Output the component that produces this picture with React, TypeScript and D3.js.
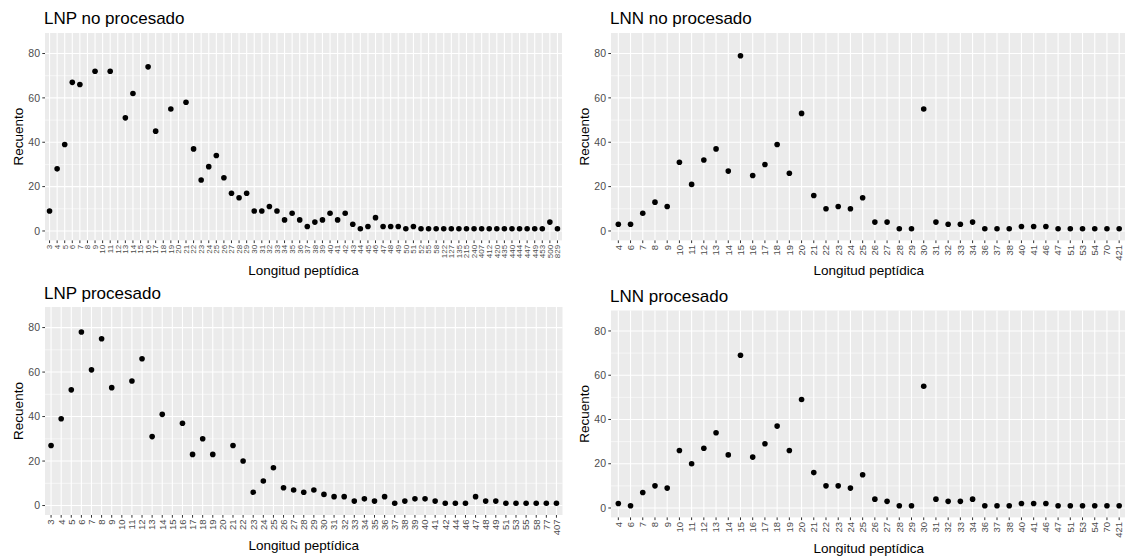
import React from "react";
import * as d3 from "d3";

// LNP no procesado
const lnpNoProcCats = [
  3, 4, 5, 6, 7, 8, 9, 10, 11, 12, 13, 14, 15, 16, 17, 18, 19, 20, 21, 22, 23, 24, 25, 26, 27,
  28, 29, 30, 31, 32, 33, 34, 35, 36, 37, 38, 39, 40, 41, 42, 43, 44, 45, 46, 47, 48, 49, 50, 51, 52,
  55, 58, 122, 127, 135, 215, 240, 407, 412, 420, 435, 440, 444, 447, 449, 453, 500, 829,
];
// null = above the y limit, dropped from the plot
const lnpNoProcCounts = [
  9, 28, 39, 67, 66, null, 72, null, 72, null, 51, 62, null, 74, 45, null, 55, null, 58, 37, 23, 29, 34, 24, 17,
  15, 17, 9, 9, 11, 9, 5, 8, 5, 2, 4, 5, 8, 5, 8, 3, 1, 2, 6, 2, 2, 2, 1, 2, 1,
  1, 1, 1, 1, 1, 1, 1, 1, 1, 1, 1, 1, 1, 1, 1, 1, 4, 1,
];

// LNN no procesado
const lnnNoProcCats = [
  4, 6, 7, 8, 9, 10, 11, 12, 13, 14, 15, 16, 17, 18, 19, 20, 21, 22, 23, 24, 25, 26, 27, 28, 29, 30,
  31, 32, 33, 34, 36, 37, 38, 40, 41, 46, 47, 51, 53, 54, 70, 421,
];
const lnnNoProcCounts = [
  3, 3, 8, 13, 11, 31, 21, 32, 37, 27, 79, 25, 30, 39, 26, 53, 16, 10, 11, 10, 15, 4, 4, 1, 1, 55,
  4, 3, 3, 4, 1, 1, 1, 2, 2, 2, 1, 1, 1, 1, 1, 1,
];

// LNP procesado
const lnpProcCats = [
  3, 4, 5, 6, 7, 8, 9, 10, 11, 12, 13, 14, 15, 16, 17, 18, 19, 20, 21, 22, 23, 24, 25, 26, 27,
  28, 29, 30, 31, 32, 33, 34, 35, 36, 37, 38, 39, 40, 41, 42, 44, 46, 47, 48, 49, 51, 53, 55, 58, 77, 407,
];
const lnpProcCounts = [
  27, 39, 52, 78, 61, 75, 53, null, 56, 66, 31, 41, null, 37, 23, 30, 23, null, 27, 20, 6, 11, 17, 8, 7,
  6, 7, 5, 4, 4, 2, 3, 2, 4, 1, 2, 3, 3, 2, 1, 1, 1, 4, 2, 2, 1, 1, 1, 1, 1, 1,
];

// LNN procesado
const lnnProcCats = lnnNoProcCats;
const lnnProcCounts = [
  2, 1, 7, 10, 9, 26, 20, 27, 34, 24, 69, 23, 29, 37, 26, 49, 16, 10, 10, 9, 15, 4, 3, 1, 1, 55,
  4, 3, 3, 4, 1, 1, 1, 2, 2, 2, 1, 1, 1, 1, 1, 1,
];

const yTicks = [0, 20, 40, 60, 80];
const yMinorTicks = [10, 30, 50, 70];
const yLimits = [0, 85];

const FONT = "'Liberation Sans', Arial, Helvetica, sans-serif";

type PanelProps = {
  title: string;
  cats: number[];
  counts: (number | null)[];
  left: number;
  right: number;
  top: number;
  bottom: number;
  titleY: number;
  yTitleX: number;
  xTitleY: number;
  xLabelSize: number;
};

const Panel = ({ title, cats, counts, left, right, top, bottom, titleY, yTitleX, xTitleY, xLabelSize }: PanelProps) => {
  const x = d3.scalePoint<string>().domain(cats.map(String)).range([left, right]).padding(0.6);
  const pad = (yLimits[1] - yLimits[0]) * 0.05;
  const y = d3.scaleLinear().domain([yLimits[0] - pad, yLimits[1] + pad]).range([bottom, top]);

  return (
    <g>
      <rect x={left} y={top} width={right - left} height={bottom - top} fill="#EBEBEB" />
      {yMinorTicks.map((t) => (
        <line key={"mn" + t} x1={left} x2={right} y1={y(t)} y2={y(t)} stroke="#fff" strokeWidth={0.55} />
      ))}
      {yTicks.map((t) => (
        <line key={"mj" + t} x1={left} x2={right} y1={y(t)} y2={y(t)} stroke="#fff" strokeWidth={1.1} />
      ))}
      {cats.map((c) => (
        <line key={"vx" + c} x1={x(String(c))} x2={x(String(c))} y1={top} y2={bottom} stroke="#fff" strokeWidth={1.1} />
      ))}

      {cats.map((c, i) =>
        counts[i] == null ? null : (
          <circle key={"pt" + c} cx={x(String(c))} cy={y(counts[i] as number)} r={2.8} fill="#000" />
        )
      )}

      {yTicks.map((t) => (
        <g key={"yt" + t}>
          <line x1={left - 2.7} x2={left} y1={y(t)} y2={y(t)} stroke="#333" strokeWidth={1} />
          <text x={left - 5} y={y(t)} dy="0.35em" textAnchor="end" fontSize={10.5} fill="#4D4D4D" fontFamily={FONT}>
            {t}
          </text>
        </g>
      ))}

      {cats.map((c) => {
        const px = x(String(c)) as number;
        return (
          <g key={"xt" + c}>
            <line x1={px} x2={px} y1={bottom} y2={bottom + 2.7} stroke="#333" strokeWidth={1} />
            <text
              transform={`translate(${px},${bottom + 4.5}) rotate(-90)`}
              dy="0.35em"
              textAnchor="end"
              fontSize={xLabelSize}
              fill="#4D4D4D"
              fontFamily={FONT}
            >
              {c}
            </text>
          </g>
        );
      })}

      <text x={left - 1} y={titleY} fontSize={17} fill="#000" fontFamily={FONT}>
        {title}
      </text>
      <text
        transform={`translate(${yTitleX},${(top + bottom) / 2}) rotate(-90)`}
        dy="0.35em"
        textAnchor="middle"
        fontSize={13.5}
        fill="#000"
        fontFamily={FONT}
      >
        Recuento
      </text>
      <text x={(left + right) / 2} y={xTitleY} textAnchor="middle" fontSize={13.5} fill="#000" fontFamily={FONT}>
        Longitud peptídica
      </text>
    </g>
  );
};

export default function App() {
  return (
    <svg
      width={1125}
      height={556}
      style={{ position: "absolute", left: 0, top: 0, background: "#fff" }}
    >
      <Panel
        title="LNP no procesado"
        cats={lnpNoProcCats}
        counts={lnpNoProcCounts}
        left={45}
        right={562}
        top={33}
        bottom={240.4}
        titleY={24}
        yTitleX={18}
        xTitleY={275}
        xLabelSize={8}
      />
      <Panel
        title="LNN no procesado"
        cats={lnnNoProcCats}
        counts={lnnNoProcCounts}
        left={611}
        right={1126.5}
        top={33}
        bottom={240.4}
        titleY={24}
        yTitleX={584}
        xTitleY={275}
        xLabelSize={9.5}
      />
      <Panel
        title="LNP procesado"
        cats={lnpProcCats}
        counts={lnpProcCounts}
        left={45}
        right={562.5}
        top={307}
        bottom={515}
        titleY={299}
        yTitleX={18}
        xTitleY={550}
        xLabelSize={9.5}
      />
      <Panel
        title="LNN procesado"
        cats={lnnProcCats}
        counts={lnnProcCounts}
        left={611}
        right={1126.5}
        top={310.5}
        bottom={517.4}
        titleY={302}
        yTitleX={584}
        xTitleY={553}
        xLabelSize={9.5}
      />
    </svg>
  );
}
